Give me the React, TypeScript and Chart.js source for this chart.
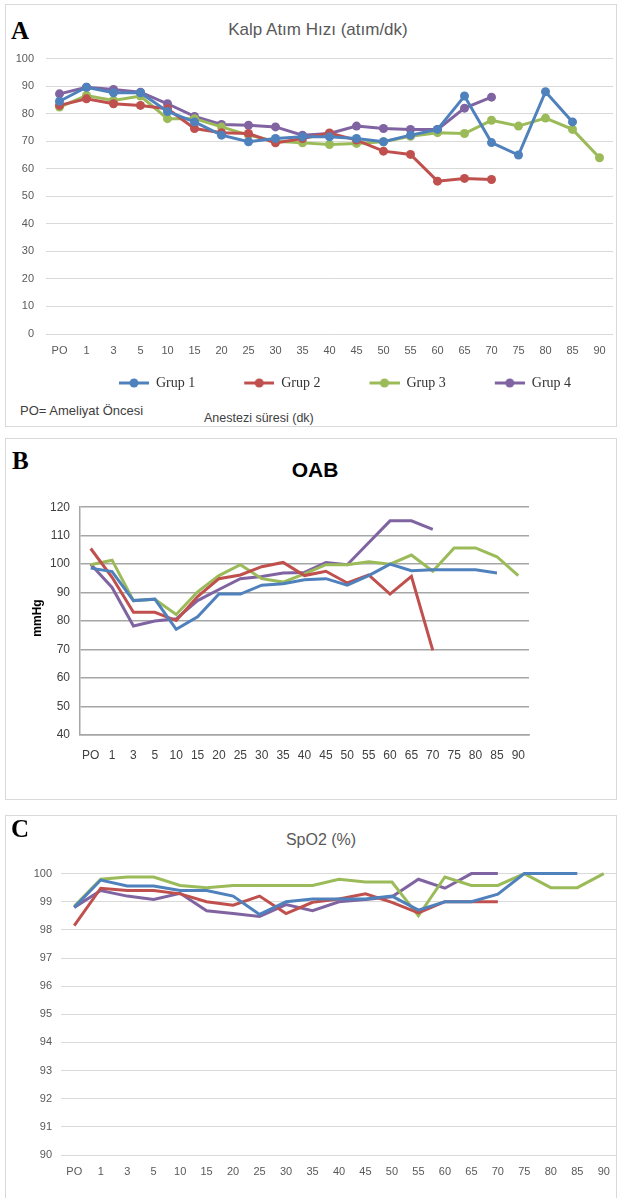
import React, { useEffect, useRef } from 'react';
import { Chart, registerables } from 'chart.js';

Chart.register(...registerables);

const categories = ['PO', '1', '3', '5', '10', '15', '20', '25', '30', '35', '40', '45', '50', '55', '60', '65', '70', '75', '80', '85', '90'];
const groupNames = ['Grup 1', 'Grup 2', 'Grup 3', 'Grup 4'];
const groupColors = ['#4f81bd', '#c0504d', '#9bbb59', '#8064a2'];

// A: Kalp Atım Hızı (atım/dk)
const hrGrup1 = [84.5, 89.6, 87.6, 87.6, 80.8, 77, 72.2, 69.8, 71, 71.6, 71.6, 71, 69.8, 72.2, 74.3, 86.4, 69.5, 65, 88, 77, null];
const hrGrup2 = [83, 85.4, 83.6, 83, 81.8, 74.6, 73.1, 72.8, 69.4, 71, 73, 70.4, 66.4, 65.2, 55.5, 56.5, 56.1, null, null, null, null];
const hrGrup3 = [82.4, 86.6, 84.8, 86.4, 78.2, 78.2, 75.2, 72.2, 70, 69.4, 68.8, 69.2, 69.8, 71.8, 73.1, 72.8, 77.6, 75.5, 78.4, 74.3, 64];
const hrGrup4 = [87.2, 89.6, 88.8, 87.8, 83.6, 79, 76.1, 75.8, 75.2, 72.2, 72.8, 75.5, 74.6, 74.3, 74.3, 82, 86, null, null, null, null];
const hrTicks = [0, 10, 20, 30, 40, 50, 60, 70, 80, 90, 100];

// B: OAB (mmHg)
const oabGrup1 = [98.6, 97.4, 87.2, 87.7, 77.1, 81.5, 89.5, 89.5, 92.6, 93.1, 94.5, 94.9, 92.6, 96, 100, 97.7, 98, 98, 98, 96.9, null];
const oabGrup2 = [105.5, 95.4, 83.1, 83.1, 80.2, 88.6, 94.9, 96.2, 99.1, 100.6, 96, 97.5, 93.4, 96.2, 89.5, 95.7, 69.7, null, null, null, null];
const oabGrup3 = [99.8, 101.4, 87.2, 87.7, 82.3, 90.3, 96, 99.8, 94.9, 93.7, 96.6, 99.8, 99.8, 100.8, 100, 103.2, 97.5, 105.7, 105.7, 102.6, 96];
const oabGrup4 = [100, 91.8, 78.3, 80, 80.8, 87.2, 91.1, 94.9, 95.7, 96.9, 97.1, 100.6, 99.8, 107.5, 115.2, 115.2, 112.2, null, null, null, null];
const oabTicks = [40, 50, 60, 70, 80, 90, 100, 110, 120];

// C: SpO2 (%)
const spGrup1 = [98.8, 99.77, 99.56, 99.56, 99.4, 99.4, 99.2, 98.55, 99.0, 99.1, 99.1, 99.1, 99.2, 98.7, 99, 99, 99.27, 100, 100, 100, null];
const spGrup2 = [98.15, 99.48, 99.4, 99.4, 99.28, 99, 98.88, 99.2, 98.58, 98.98, 99.1, 99.28, 98.98, 98.6, 99, 99, 99, null, null, null, null];
const spGrup3 = [98.84, 99.8, 99.88, 99.88, 99.58, 99.5, 99.58, 99.58, 99.58, 99.58, 99.8, 99.7, 99.7, 98.5, 99.88, 99.58, 99.58, 100, 99.5, 99.5, 100];
const spGrup4 = [98.8, 99.4, 99.2, 99.08, 99.3, 98.68, 98.58, 98.48, 98.9, 98.68, 99.0, 99.08, 99.18, 99.8, 99.48, 100, 100, null, null, null, null];
const spTicks = [90, 91, 92, 93, 94, 95, 96, 97, 98, 99, 100];

Chart.defaults.font.family = "'Liberation Sans', Arial, sans-serif";

function makeMarker(color: string) {
  const c = document.createElement('canvas');
  c.width = 61;
  c.height = 12;
  const ctx = c.getContext('2d')!;
  ctx.strokeStyle = color;
  ctx.lineWidth = 3;
  ctx.beginPath();
  ctx.moveTo(31, 6);
  ctx.lineTo(61, 6);
  ctx.stroke();
  ctx.fillStyle = color;
  ctx.beginPath();
  ctx.arc(46, 6, 4.5, 0, Math.PI * 2);
  ctx.fill();
  return c;
}

function buildDatasets(series: (number | null)[][], withPoints: boolean) {
  return series.map((data, i) => ({
    label: groupNames[i],
    data,
    borderColor: groupColors[i],
    backgroundColor: groupColors[i],
    pointBackgroundColor: groupColors[i],
    pointBorderColor: groupColors[i],
    borderWidth: 3,
    pointRadius: withPoints ? 4.5 : 0,
    pointBorderWidth: 0,
    tension: 0,
    clip: false as const,
  }));
}

function configA() {
  const markers = groupColors.map(makeMarker);
  return {
    type: 'line' as const,
    data: { labels: categories, datasets: buildDatasets([hrGrup1, hrGrup2, hrGrup3, hrGrup4], true) },
    options: {
      responsive: false,
      animation: false as const,
      layout: { padding: { top: 17, right: 7, left: 0, bottom: 0 } },
      plugins: {
        tooltip: { enabled: false },
        title: { display: false },
        legend: {
          display: true,
          position: 'bottom' as const,
          fullSize: false,
          align: 'center' as const,
          labels: {
            usePointStyle: true,
            pointStyleWidth: 61,
            padding: 18,
            color: '#333333',
            font: { family: "'Liberation Serif', 'Times New Roman', serif", size: 14 },
            generateLabels: (chart: any) =>
              chart.data.datasets.map((ds: any, i: number) => ({
                text: ds.label,
                fillStyle: ds.borderColor,
                strokeStyle: ds.borderColor,
                lineWidth: 0,
                hidden: false,
                datasetIndex: i,
                pointStyle: markers[i],
                rotation: 0,
                fontColor: '#333333',
              })),
          },
        },
      },
      scales: {
        x: {
          offset: true,
          grid: { display: false, drawTicks: false },
          border: { display: false },
          ticks: { color: '#595959', font: { size: 11 }, padding: 10, autoSkip: false, maxRotation: 0 },
          afterFit: (s: any) => { s.height = 24; },
        },
        y: {
          min: 0,
          max: 100,
          afterBuildTicks: (s: any) => { s.ticks = hrTicks.map((v) => ({ value: v })); },
          grid: { color: '#d9d9d9', lineWidth: 1, drawTicks: false },
          border: { display: false },
          ticks: { color: '#595959', font: { size: 11 }, padding: 12 },
          afterFit: (s: any) => { s.width = 46; },
        },
      },
    },
  };
}

function configB() {
  return {
    type: 'line' as const,
    data: { labels: categories, datasets: buildDatasets([oabGrup1, oabGrup2, oabGrup3, oabGrup4], false) },
    options: {
      responsive: false,
      animation: false as const,
      layout: { padding: { top: 12, right: 91, left: 0, bottom: 0 } },
      plugins: { tooltip: { enabled: false }, legend: { display: false }, title: { display: false } },
      scales: {
        x: {
          offset: true,
          grid: { display: false, drawTicks: false },
          border: { display: true, color: '#a6a6a6', width: 1.5 },
          ticks: { color: '#404040', font: { size: 12 }, padding: 13, autoSkip: false, maxRotation: 0 },
          afterFit: (s: any) => { s.height = 30; },
        },
        y: {
          min: 40,
          max: 120,
          afterBuildTicks: (s: any) => { s.ticks = oabTicks.map((v) => ({ value: v })); },
          grid: { color: '#a6a6a6', lineWidth: 1.5, drawTicks: false },
          border: { display: true, color: '#a6a6a6', width: 1.5 },
          ticks: { color: '#404040', font: { size: 12 }, padding: 10 },
          afterFit: (s: any) => { s.width = 80; },
        },
      },
    },
  };
}

function configC() {
  return {
    type: 'line' as const,
    data: { labels: categories, datasets: buildDatasets([spGrup1, spGrup2, spGrup3, spGrup4], false) },
    options: {
      responsive: false,
      animation: false as const,
      layout: { padding: { top: 9, right: 3, left: 0, bottom: 0 } },
      plugins: { tooltip: { enabled: false }, legend: { display: false }, title: { display: false } },
      scales: {
        x: {
          offset: true,
          grid: { display: false, drawTicks: false },
          border: { display: false },
          ticks: { color: '#595959', font: { size: 11 }, padding: 10, autoSkip: false, maxRotation: 0 },
          afterFit: (s: any) => { s.height = 30; },
        },
        y: {
          min: 90,
          max: 100,
          afterBuildTicks: (s: any) => { s.ticks = spTicks.map((v) => ({ value: v })); },
          grid: { color: '#d9d9d9', lineWidth: 1, drawTicks: false },
          border: { display: false },
          ticks: { color: '#595959', font: { size: 11 }, padding: 9 },
          afterFit: (s: any) => { s.width = 61; },
        },
      },
    },
  };
}

function ChartCanvas({ make, top, height }: { make: () => any; top: number; height: number }) {
  const ref = useRef<HTMLCanvasElement | null>(null);
  useEffect(() => {
    const chart = new Chart(ref.current as HTMLCanvasElement, make());
    return () => chart.destroy();
  }, []);
  return (
    <canvas
      ref={ref}
      width={620}
      height={height}
      style={{ position: 'absolute', left: 0, top, width: 620, height, display: 'block' }}
    />
  );
}

const sans = "'Liberation Sans', Arial, sans-serif";
const serif = "'Liberation Serif', 'Times New Roman', serif";

function Panel({ top, height, width = 612 }: { top: number; height: number; width?: number }) {
  return (
    <div
      style={{
        position: 'absolute',
        left: 5,
        top,
        width,
        height,
        border: '1px solid #d9d9d9',
        boxSizing: 'border-box',
      }}
    />
  );
}

function Txt({ children, left, top, size, bold, family, color, center }: any) {
  return (
    <div
      style={{
        position: 'absolute',
        left,
        top,
        fontSize: size,
        lineHeight: 1,
        fontWeight: bold ? 'bold' : 'normal',
        fontFamily: family || sans,
        color: color || '#595959',
        whiteSpace: 'nowrap',
        transform: center ? 'translateX(-50%)' : undefined,
      }}
    >
      {children}
    </div>
  );
}

export default function App() {
  return (
    <div style={{ position: 'absolute', left: 0, top: 0, width: 620, height: 1198, background: '#fff', overflow: 'hidden' }}>
      <Panel top={4} height={423} />
      <Panel top={438} height={362} />
      <Panel top={815} height={400} />

      <Txt left={11} top={17.5} size={25} bold family={serif} color="#000">A</Txt>
      <Txt left={318} top={20.6} size={17} center>Kalp Atım Hızı (atım/dk)</Txt>
      <ChartCanvas make={configA} top={40} height={360} />
      <Txt left={20} top={403.6} size={13} color="#404040">PO= Ameliyat Öncesi</Txt>
      <Txt left={204} top={412} size={12.5} color="#404040">Anestezi süresi (dk)</Txt>

      <Txt left={12} top={447.6} size={25} bold family={serif} color="#000">B</Txt>
      <Txt left={315} top={459.2} size={21} bold center color="#000">OAB</Txt>
      <ChartCanvas make={configB} top={490} height={275} />
      <div
        style={{
          position: 'absolute',
          left: 37,
          top: 618,
          fontFamily: sans,
          fontWeight: 'bold',
          fontSize: 12,
          lineHeight: 1,
          color: '#000',
          whiteSpace: 'nowrap',
          transform: 'translate(-50%, -50%) rotate(-90deg)',
        }}
      >
        mmHg
      </div>

      <Txt left={11} top={815.6} size={25} bold family={serif} color="#000">C</Txt>
      <Txt left={321} top={831.5} size={16} center>SpO2 (%)</Txt>
      <ChartCanvas make={configC} top={858} height={327} />
    </div>
  );
}
